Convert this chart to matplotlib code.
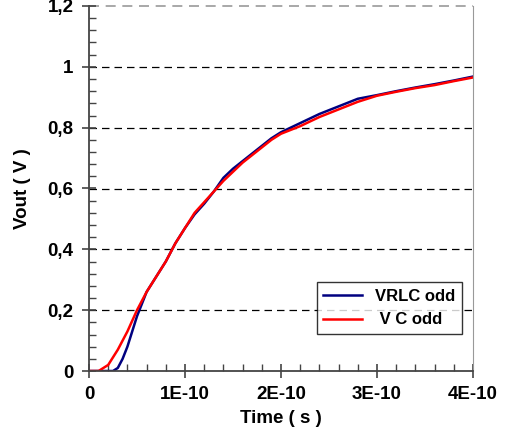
import numpy as np
import matplotlib.pyplot as plt
from matplotlib.ticker import MultipleLocator, FuncFormatter

plt.rcParams['font.family'] = ['Liberation Sans', 'DejaVu Sans']
plt.rcParams['font.weight'] = 'bold'

# time in units of 1E-10 s
t_rlc = [0, 0.1, 0.25, 0.3, 0.35, 0.4, 0.45, 0.5, 0.55, 0.6, 0.7, 0.8, 0.9, 1.0, 1.1, 1.2, 1.3,
         1.4, 1.5, 1.6, 1.7, 1.8, 1.9, 2.0, 2.2, 2.4, 2.6, 2.8, 3.0, 3.2, 3.4, 3.6, 3.8, 4.0]
v_rlc = [0, 0, 0, 0.01, 0.04, 0.08, 0.13, 0.18, 0.22, 0.26, 0.31, 0.36, 0.42, 0.47, 0.515, 0.55, 0.59,
         0.635, 0.665, 0.69, 0.715, 0.74, 0.765, 0.785, 0.815, 0.845, 0.87, 0.895, 0.907, 0.92, 0.932,
         0.943, 0.955, 0.968]
t_c = [0, 0.1, 0.2, 0.3, 0.4, 0.5, 0.6, 0.7, 0.8, 0.9, 1.0, 1.1, 1.2, 1.3, 1.4, 1.5, 1.6, 1.7, 1.8,
       1.9, 2.0, 2.2, 2.4, 2.6, 2.8, 3.0, 3.2, 3.4, 3.6, 3.8, 4.0]
v_c = [0, 0, 0.02, 0.07, 0.13, 0.2, 0.26, 0.31, 0.36, 0.42, 0.47, 0.52, 0.555, 0.59, 0.625, 0.655,
       0.685, 0.71, 0.735, 0.76, 0.78, 0.805, 0.835, 0.86, 0.885, 0.905, 0.918, 0.93, 0.94, 0.953, 0.965]

x_ticks = [0, 1, 2, 3, 4]
x_labels = ['0', '1E-10', '2E-10', '3E-10', '4E-10']

fig = plt.figure(figsize=(5.1, 4.42), dpi=100)
ax = fig.add_axes([89/510, 1-371/442, 384/510, 365/442])

ax.plot(t_rlc, v_rlc, color='#000080', lw=1.8, label='VRLC odd')
ax.plot(t_c, v_c, color='#ff0000', lw=1.8, label=' V C odd')

ax.set_xlim(0, 4)
ax.set_ylim(0, 1.2)
ax.set_xticks(x_ticks)
ax.set_xticklabels(x_labels)
ax.xaxis.set_minor_locator(MultipleLocator(0.2))
ax.yaxis.set_major_locator(MultipleLocator(0.2))
ax.yaxis.set_minor_locator(MultipleLocator(0.04))
ax.yaxis.set_major_formatter(FuncFormatter(lambda v, p: ('%g' % round(v, 1)).replace('.', ',')))

for y in [0.2, 0.4, 0.6, 0.8, 1.0]:
    ax.axhline(y, color='black', lw=0.9, ls=(0, (6, 4)), zorder=0)
ax.axhline(1.2, color='#999999', lw=1.2, ls=(0, (6, 4)), zorder=0, clip_on=False)

ax.spines['top'].set_visible(False)
ax.spines['right'].set_color('#999999')
ax.spines['left'].set_color('#444444')
ax.spines['bottom'].set_color('#444444')
ax.spines['left'].set_linewidth(1.3)
ax.spines['bottom'].set_linewidth(1.3)

ax.tick_params(which='major', direction='inout', length=10, width=1.2, color='#444444',
               labelsize=13.5, pad=6)
ax.tick_params(which='minor', direction='in', length=5, width=1.0, color='#444444')
for lab in ax.get_xticklabels() + ax.get_yticklabels():
    lab.set_fontweight('bold')

ax.set_xlabel('Time ( s )', fontsize=13.5, fontweight='bold', labelpad=5)
ax.set_ylabel('Vout ( V )', fontsize=13.5, fontweight='bold', labelpad=12)

leg = ax.legend(loc='lower right', bbox_to_anchor=(373/384, (371-334)/365), fontsize=12,
                frameon=True, fancybox=False, edgecolor='black', handlelength=2.3,
                borderpad=0.4, labelspacing=0.5, borderaxespad=0)
leg.get_frame().set_linewidth(1.0)
for txt in leg.get_texts():
    txt.set_fontweight('bold')

fig.savefig('out.png', dpi=100)
